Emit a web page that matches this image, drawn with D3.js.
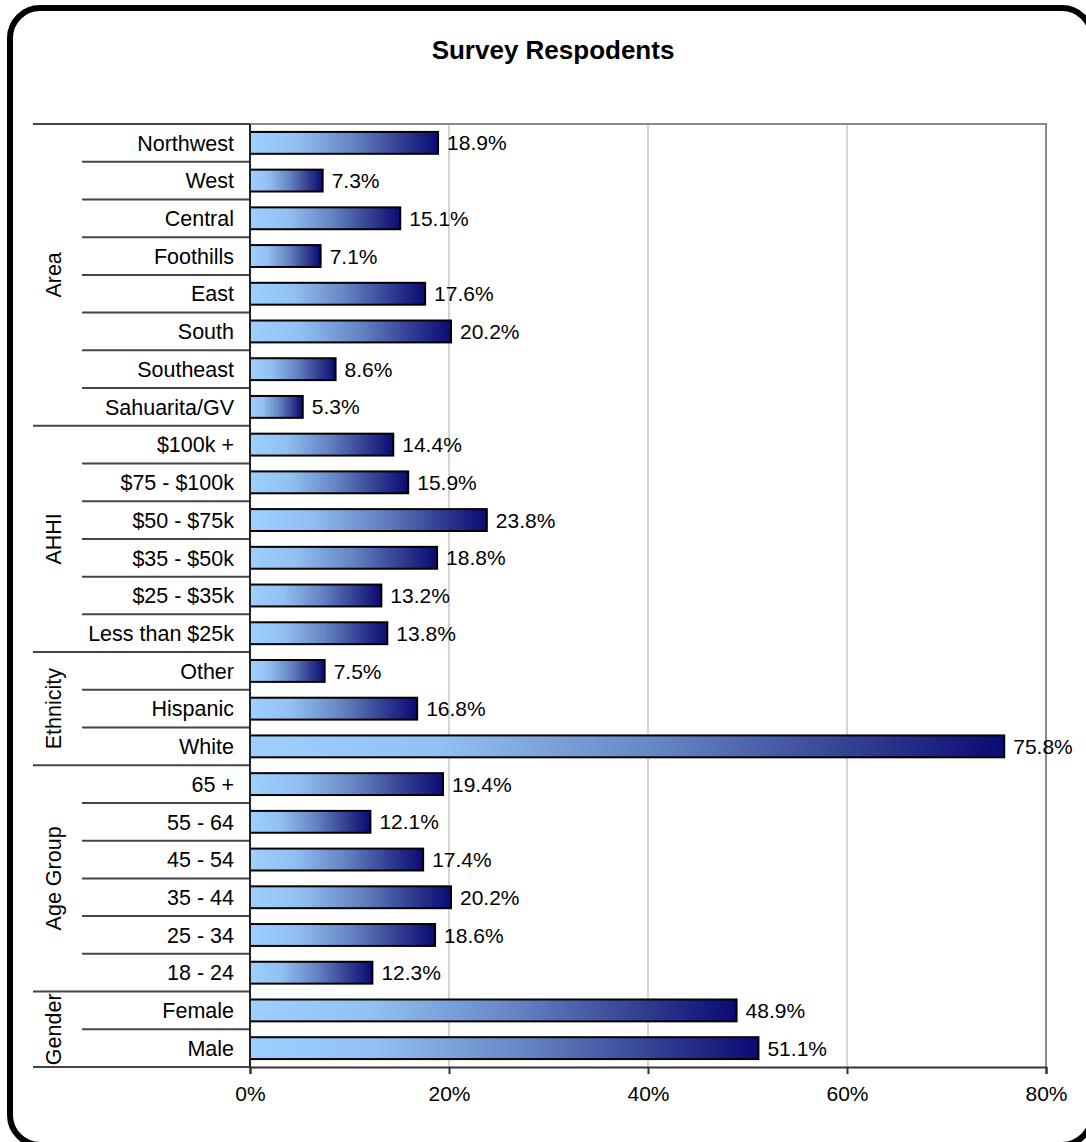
<!DOCTYPE html>
<html>
<head>
<meta charset="utf-8">
<script src="https://cdn.jsdelivr.net/npm/d3@7"></script>
<style>
  body { margin: 0; background: #fff; }
  text { font-family: "Liberation Sans", Arial, sans-serif; fill: #000; }
</style>
</head>
<body>
<script>
// chart data
const groupNames = ["Area", "AHHI", "Ethnicity", "Age Group", "Gender"];
const groupSizes = [8, 6, 3, 6, 2];
const categories = [
  "Northwest", "West", "Central", "Foothills", "East", "South", "Southeast", "Sahuarita/GV",
  "$100k +", "$75 - $100k", "$50 - $75k", "$35 - $50k", "$25 - $35k", "Less than $25k",
  "Other", "Hispanic", "White",
  "65 +", "55 - 64", "45 - 54", "35 - 44", "25 - 34", "18 - 24",
  "Female", "Male"
];
const values = [
  18.9, 7.3, 15.1, 7.1, 17.6, 20.2, 8.6, 5.3,
  14.4, 15.9, 23.8, 18.8, 13.2, 13.8,
  7.5, 16.8, 75.8,
  19.4, 12.1, 17.4, 20.2, 18.6, 12.3,
  48.9, 51.1
];
const xTicks = [0, 20, 40, 60, 80];
const title = "Survey Respodents";

const W = 1086, H = 1142;
const plot = { left: 250, right: 1046, top: 124, bottom: 1067 };

const svg = d3.select("body").append("svg")
  .attr("width", W)
  .attr("height", H);

// rounded frame (runs off the right/bottom edge like the original)
svg.append("rect")
  .attr("x", 10).attr("y", 8)
  .attr("width", 1082).attr("height", 1137)
  .attr("rx", 30).attr("ry", 30)
  .attr("fill", "#fff")
  .attr("stroke", "#000")
  .attr("stroke-width", 6);

// gradient used by every bar
const grad = svg.append("defs").append("linearGradient")
  .attr("id", "barGrad")
  .attr("x1", "0").attr("x2", "1").attr("y1", "0").attr("y2", "0");
[[0, "#9dd0ff"], [0.25, "#92c0f2"], [0.55, "#6483c2"], [0.8, "#333f92"], [1, "#0a0a74"]]
  .forEach(([o, c]) => grad.append("stop").attr("offset", o).attr("stop-color", c));

// scales
const x = d3.scaleLinear().domain([0, 80]).range([plot.left, plot.right]);
const y = d3.scaleBand()
  .domain(categories)
  .range([plot.top, plot.bottom])
  .paddingInner(0.42)
  .paddingOuter(0.21);

// title
svg.append("text")
  .attr("x", 553).attr("y", 59)
  .attr("text-anchor", "middle")
  .style("font-size", "26px")
  .style("font-weight", "bold")
  .text(title);

// grid lines
svg.append("g")
  .selectAll("line")
  .data(xTicks.filter((t) => t > 0 && t < 80))
  .enter().append("line")
  .attr("x1", (d) => x(d)).attr("x2", (d) => x(d))
  .attr("y1", plot.top).attr("y2", plot.bottom)
  .attr("stroke", "#d4d4d4")
  .attr("stroke-width", 2);

// plot border top + right
svg.append("path")
  .attr("d", `M${plot.left},${plot.top}H${plot.right}V${plot.bottom}`)
  .attr("fill", "none")
  .attr("stroke", "#8a8a8a")
  .attr("stroke-width", 2);

// bars
svg.append("g")
  .selectAll("rect")
  .data(values)
  .enter().append("rect")
  .attr("x", x(0))
  .attr("y", (d, i) => y(categories[i]))
  .attr("width", (d) => x(d) - x(0))
  .attr("height", y.bandwidth())
  .attr("fill", "url(#barGrad)")
  .attr("stroke", "#000")
  .attr("stroke-width", 2);

// value labels
svg.append("g")
  .selectAll("text")
  .data(values)
  .enter().append("text")
  .attr("x", (d) => x(d) + 9)
  .attr("y", (d, i) => y(categories[i]) + y.bandwidth() / 2)
  .attr("dy", "0.36em")
  .style("font-size", "21px")
  .text((d) => d.toFixed(1) + "%");

// bottom axis
const xAxis = d3.axisBottom(x)
  .tickValues(xTicks)
  .tickFormat((d) => d + "%")
  .tickSize(7)
  .tickPadding(12);
const gx = svg.append("g")
  .attr("transform", `translate(0,${plot.bottom})`)
  .call(xAxis);
gx.select(".domain").attr("stroke", "#333").attr("stroke-width", 2);
gx.selectAll(".tick line").attr("stroke", "#333").attr("stroke-width", 2);
gx.selectAll(".tick text")
  .style("font-size", "21px")
  .style("font-family", "'Liberation Sans', Arial, sans-serif")
  .attr("fill", "#000");

// left category axis with group separators
const step = y.step();
const groupStarts = d3.cumsum([0].concat(groupSizes)).slice(0, groupSizes.length);
const sep = svg.append("g").attr("stroke", "#444").attr("stroke-width", 2);
for (let i = 0; i <= categories.length; i++) {
  const yy = plot.top + i * step;
  const isGroupEdge = groupStarts.includes(i) || i === categories.length;
  sep.append("line")
    .attr("x1", isGroupEdge ? 33 : 82).attr("x2", plot.left)
    .attr("y1", yy).attr("y2", yy);
}
sep.append("line")
  .attr("x1", plot.left).attr("x2", plot.left)
  .attr("y1", plot.top).attr("y2", plot.bottom)
  .attr("stroke", "#222");

// category labels
svg.append("g")
  .selectAll("text")
  .data(categories)
  .enter().append("text")
  .attr("x", 234)
  .attr("y", (d) => y(d) + y.bandwidth() / 2)
  .attr("dy", "0.36em")
  .attr("text-anchor", "end")
  .style("font-size", "21.5px")
  .text((d) => d);

// group labels, rotated
svg.append("g")
  .selectAll("text")
  .data(groupNames)
  .enter().append("text")
  .attr("transform", (d, i) => {
    const cy = plot.top + (groupStarts[i] + groupSizes[i] / 2) * step;
    return `translate(53,${cy}) rotate(-90)`;
  })
  .attr("text-anchor", "middle")
  .attr("dy", "0.36em")
  .style("font-size", "21.5px")
  .text((d) => d);
</script>
</body>
</html>
